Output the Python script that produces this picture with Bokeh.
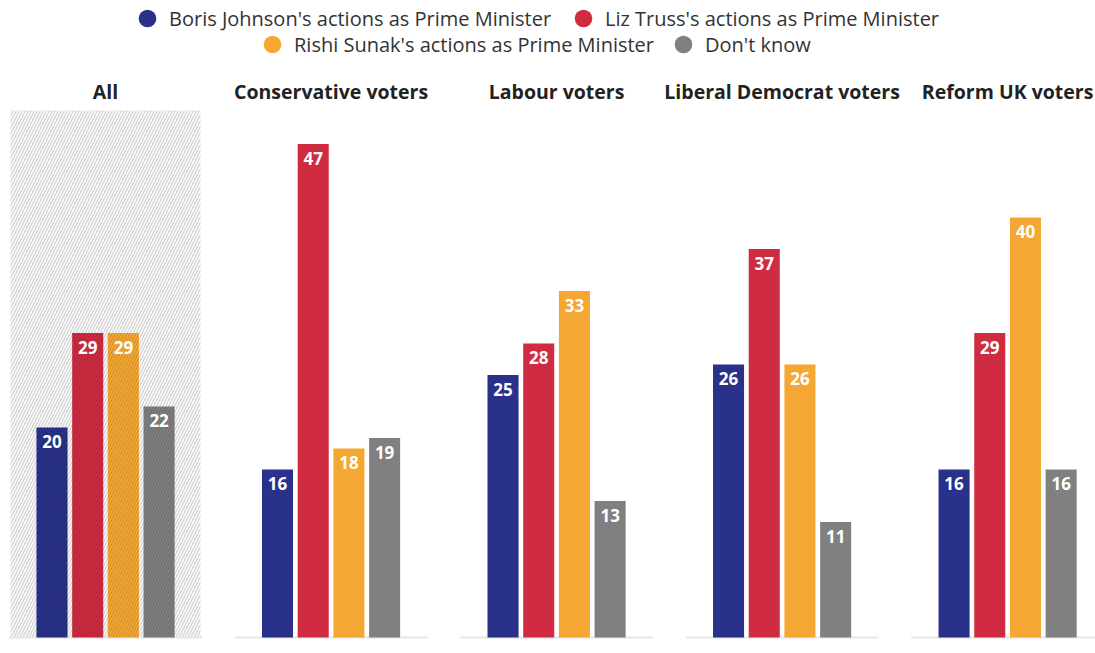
from bokeh.plotting import figure
from bokeh.models import Range1d, ColumnDataSource, Legend, LegendItem
from bokeh.core.properties import value
from bokeh.embed import file_html
from bokeh.resources import INLINE

# ---- data ----
groups = ["All", "Conservative voters", "Labour voters",
          "Liberal Democrat voters", "Reform UK voters"]
series = ["Boris Johnson's actions as Prime Minister",
          "Liz Truss's actions as Prime Minister",
          "Rishi Sunak's actions as Prime Minister",
          "Don't know"]
colors = ["#29318a", "#cf2b41", "#f5a733", "#808080"]
johnson = [20, 16, 25, 26, 16]
truss = [29, 47, 28, 37, 29]
sunak = [29, 18, 33, 26, 40]
dont_know = [22, 19, 13, 11, 16]
all_values = [johnson, truss, sunak, dont_know]

# ---- layout parameters (units of one bar step) ----
GROUP_STEP = 6.317
BAR_W = 0.87
FONT = "Open Sans"

p = figure(width=1095, height=645, output_backend="svg", toolbar_location=None,
           x_range=Range1d(-1.4426, 29.23), y_range=Range1d(-0.762, 60.67),
           x_axis_location=None, y_axis_location=None, min_border=0)
p.grid.visible = False
p.outline_line_color = None

centers = [g * GROUP_STEP + 1.5 for g in range(len(groups))]

# hatched background behind the "All" panel
p.quad(left=[centers[0] - 2.66], right=[centers[0] + 2.66], bottom=[0], top=[50.2],
       fill_color="white", line_color=None, hatch_pattern="/",
       hatch_color="#d6d6d6", hatch_scale=6, hatch_weight=1.5)

# baselines
p.segment(x0=[c - 2.7 for c in centers], x1=[c + 2.7 for c in centers],
          y0=[0] * len(centers), y1=[0] * len(centers),
          line_color="#e6e6e6", line_width=2)

legend_positions = [(125, 605), (561, 605), (250, 579), (661, 579)]

for s, (name, vals, col) in enumerate(zip(series, all_values, colors)):
    xs = [g * GROUP_STEP + s for g in range(len(groups))]
    src = ColumnDataSource(dict(
        x=xs, top=vals, label=[str(v) for v in vals],
        hatch=["/" if g == 0 else " " for g in range(len(groups))]))
    p.vbar(x="x", top="top", width=BAR_W, source=src, fill_color=col,
           line_color=None, hatch_pattern="hatch", hatch_color="black",
           hatch_alpha=0.13, hatch_scale=6, hatch_weight=1.2)
    p.text(x="x", y="top", text="label", source=src, text_color="white",
           text_font=value(FONT), text_font_style="bold", text_font_size="17px",
           text_align="center", text_baseline="middle", y_offset=14)
    dot = p.scatter(x="x", y="top", source=src, size=0, marker="circle",
                    fill_color=col, line_color=None)
    leg = Legend(items=[LegendItem(label=name, renderers=[dot])],
                 location=legend_positions[s], orientation="horizontal",
                 glyph_width=44, glyph_height=44, label_standoff=0,
                 padding=0, margin=0, border_line_color=None,
                 background_fill_alpha=0, label_text_font=FONT,
                 label_text_font_size="20px", label_text_color="#333333")
    p.add_layout(leg)

# panel titles
p.text(x=centers, y=[52] * len(centers), text=groups, text_font=value(FONT),
       text_font_style="bold", text_font_size="19.5px", text_color="#222222",
       text_align="center", text_baseline="middle")

open("out.html", "w").write(file_html(p, INLINE))
